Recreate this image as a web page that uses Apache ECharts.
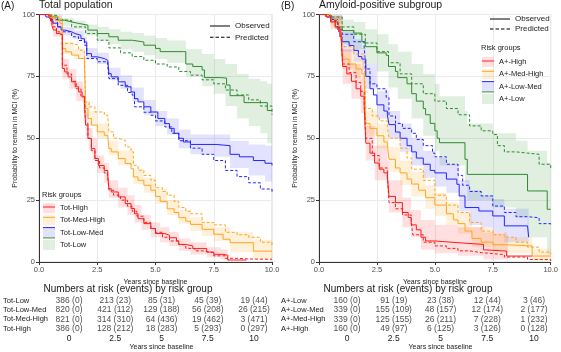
<!DOCTYPE html>
<html>
<head>
<meta charset="utf-8">
<title>Risk groups - probability to remain in MCI</title>
<script src="https://cdn.jsdelivr.net/npm/echarts@6/dist/echarts.min.js"></script>
<style>
  html, body { margin: 0; padding: 0; background: #fff; }
  #main { width: 561px; height: 352px; }
</style>
</head>
<body>
<div id="main"></div>
<script>
/* ---------- data: (A) total population, [years, %] ---------- */
var totHighObs = [[0,100],[0.4,100],[0.45,98.4],[0.55,95.7],[0.62,93.7],[0.75,92.3],[0.9,91.6],[1.0,78.2],[1.1,76.8],[1.25,74.8],[1.4,72.8],[1.55,70.8],[1.7,68.7],[1.85,66.7],[1.95,64],[2.0,55.3],[2.1,49.9],[2.25,45.8],[2.4,41.8],[2.55,39],[2.8,37],[2.95,35],[3.0,29.6],[3.1,28.3],[3.4,26.3],[3.7,23.6],[3.95,21.6],[4.1,19.5],[4.25,17.5],[4.5,15.5],[4.8,13.5],[5.0,11.5],[5.4,10.8],[5.6,9.8],[5.9,8.5],[6.0,7.1],[6.3,6.5],[6.6,5.4],[7.2,4],[7.5,3.1],[7.9,2.7],[8.1,0.8],[8.9,0.8]];
var totHighPred = [[0,100],[0.4,99.5],[0.5,97.5],[0.6,95],[0.75,93],[0.9,92],[1.0,79.5],[1.2,76],[1.4,73],[1.6,70],[1.8,67],[1.95,65],[2.0,56],[2.1,50],[2.25,45],[2.4,41],[2.6,38],[2.8,36],[2.95,34.5],[3.0,29],[3.2,27],[3.5,25],[3.8,22.5],[4.0,20.5],[4.2,18.5],[4.5,16],[4.8,13.5],[5.0,12],[5.3,10],[5.6,8.5],[6.0,7],[6.3,5.5],[6.7,4.5],[7.0,3.8],[7.5,2.5],[8.0,1.5],[8.5,1.2],[9.0,1.1],[10,1]];
var totHighBand = [[0,100,100],[0.45,96,100],[0.6,91,97],[1.0,74,82],[1.3,70,78],[1.6,65,73],[1.9,60,68],[2.0,51,60],[2.15,45,54],[2.3,41,50],[2.5,36,43],[2.8,32,40],[3.0,26,33],[3.4,22,30],[3.8,19,27],[4.1,16,23],[4.4,13,19],[4.8,10,16],[5.2,8,14],[5.6,6.5,12],[6.0,4.5,9.5],[6.5,3,8],[7.2,2,6],[7.8,1,5],[8.1,0,3],[8.15,0,3]];

var totMHObs = [[0,100],[0.3,99.5],[0.5,98.5],[0.7,97.5],[0.9,96.4],[1.0,86.3],[1.15,84.9],[1.4,83.6],[1.7,82.2],[1.95,80.9],[2.0,62],[2.1,58],[2.25,55.3],[2.5,52.6],[2.8,51.2],[2.95,50.5],[3.0,45.8],[3.1,44.5],[3.4,41.8],[3.7,39.8],[3.95,37.7],[4.05,34.4],[4.25,33],[4.5,31],[4.8,29],[5.0,26.5],[5.2,24.5],[5.5,21.5],[5.8,20],[6.0,17.9],[6.3,16.5],[6.5,15.2],[7.0,13.2],[7.5,11.2],[7.9,9.2],[8.2,7.8],[9.2,4.4],[10,4.4]];
var totMHPred = [[0,100],[0.5,99],[0.9,98],[1.0,88.3],[1.4,87.6],[1.7,85.6],[1.95,84.2],[2.0,64.7],[2.15,62.7],[2.4,60.6],[2.8,59.3],[2.95,58.6],[3.0,52.6],[3.2,50],[3.4,49.2],[3.7,46.5],[3.95,44.5],[4.05,39.1],[4.25,37.1],[4.5,35],[4.8,33],[5.0,30],[5.3,28.5],[5.5,27],[5.8,24.5],[6.0,22],[6.3,20.5],[6.5,19.5],[7.0,16],[7.5,15],[8.0,12],[8.5,11],[9.0,10],[9.5,8],[10,6.5]];
var totMHBand = [[0,100,100],[0.5,97.5,99.5],[1.0,84,89],[1.5,82,86],[1.95,79,83],[2.0,59,65],[2.2,55.5,61],[2.5,50,56],[3.0,43,49],[3.4,39,45],[4.05,31.5,37.5],[4.5,28,34],[5.0,23.5,29.5],[5.5,19,25],[6.0,15.5,21],[6.5,12.5,18],[7.0,10.5,16],[7.5,8.5,14],[8.2,4,12],[9.2,1,9],[10,1,9]];

var totLMObs = [[0,100],[0.25,100],[0.3,99],[0.5,97.5],[0.6,96.5],[0.8,95],[0.95,93.7],[1.1,93],[1.4,92.3],[1.55,91.6],[1.8,90.2],[1.95,88.9],[2.05,84.2],[2.25,82.9],[2.5,82.2],[2.8,81.5],[2.95,80.9],[3.0,76.1],[3.1,74.8],[3.4,72.8],[3.7,70.8],[3.95,68.7],[4.1,66],[4.25,64.7],[4.5,62.7],[4.8,60.6],[5.1,58],[5.4,55.9],[5.6,54],[5.8,52],[6.0,50],[6.2,48.5],[6.5,47.5],[7.6,47],[8.2,43.5],[8.6,42.5],[9.2,41],[9.7,39.9],[10,39]];
var totLMPred = [[0,100],[0.3,99.5],[0.5,98],[0.8,95],[1.0,93],[1.4,91],[1.7,89.5],[1.95,87.6],[2.05,82.2],[2.5,80.9],[2.95,79.5],[3.0,74.1],[3.4,71.4],[3.8,68.5],[4.0,67.4],[4.1,62.7],[4.5,60.5],[4.8,59.3],[5.0,57],[5.4,54.6],[5.7,52],[6.0,49],[6.5,46],[7.0,43.5],[7.5,41],[8.0,37],[8.5,34.5],[9.0,32],[9.5,29.5],[10,28]];
var totLMBand = [[0,100,100],[0.5,97,99],[1.0,91.5,95],[1.5,90,93.5],[1.95,87,91],[2.05,82,86.5],[2.5,80,84.5],[3.0,73.5,78.5],[3.5,70,75.5],[4.0,65,70.5],[4.5,59.5,65.5],[5.0,55,61],[5.5,51.5,58],[6.0,46,53.5],[6.5,43.5,51.5],[7.5,42.5,51.5],[8.2,38,49],[9.0,35,47.5],[9.7,32.5,47],[10,32,47]];

var totLowObs = [[0,100],[0.5,100],[0.55,99],[0.8,97.7],[1.1,97],[1.4,96.4],[1.7,95.7],[2.1,93.7],[2.5,92.3],[3.0,91],[3.4,89.6],[4.0,88.9],[4.5,87.6],[5.0,86.3],[5.2,85],[6.2,85],[6.3,80],[6.6,79],[7.0,77.6],[7.1,74.5],[7.8,74.3],[8.05,71.5],[8.2,67.2],[8.8,64.4],[9.8,61.2],[10,61.2]];
var totLowPred = [[0,100],[0.5,99.5],[0.8,98],[1.0,97.5],[1.4,95],[2.0,92.3],[2.5,89.6],[3.0,86.5],[3.5,84.5],[4.0,83],[4.5,81.5],[5.0,80],[5.5,78.8],[6.0,77],[6.5,75.5],[7.0,73.6],[7.5,72],[8.0,69.5],[8.5,67.5],[9.0,65.5],[9.5,63],[10,59.5]];
var totLowBand = [[0,100,100],[0.5,99,100],[1.0,95.5,98.5],[1.5,94,97.5],[2.0,91.5,96],[2.5,89.5,95],[3.0,88,94],[3.5,86,93],[4.0,85,92.5],[4.5,83.5,91.5],[5.0,82,90.5],[5.5,80.5,89.5],[6.3,75,86],[7.0,71,84],[7.5,68,82],[8.0,63,80],[8.5,58,76],[9.0,55,74],[9.5,52,73],[9.8,48,72],[10,48,72]];

/* ---------- data: (B) amyloid-positive subgroup ---------- */
var aHighObs = [[0,100],[0.25,100],[0.3,99],[0.5,97],[0.7,95],[0.85,93],[0.95,92],[1.02,79],[1.2,76],[1.4,73],[1.6,70],[1.8,67],[1.95,63],[2.02,48],[2.2,44],[2.4,40],[2.6,37.5],[2.8,36],[2.95,34.5],[3.02,26.5],[3.3,24],[3.6,20],[3.85,18],[3.98,15],[4.2,13],[4.4,10],[4.6,8.5],[5.0,7.8],[6.0,7.1],[7.1,4.9],[7.2,4.4],[8.1,2.4],[9.2,2.4]];
var aHighPred = [[0,100],[0.3,99.5],[0.5,97.5],[0.8,94.5],[0.95,92.5],[1.02,80],[1.3,76.5],[1.6,72.5],[1.8,69],[1.95,65],[2.02,50],[2.3,43],[2.6,38],[2.95,35],[3.02,24],[3.3,21.5],[3.6,19],[3.98,16],[4.05,11],[4.5,8],[5.0,6.5],[5.5,5.5],[6.0,4.5],[6.5,3.8],[7.0,3],[8.0,2],[9.0,1],[10,0.4]];
var aHighBand = [[0,100,100],[0.5,94,99.5],[1.02,72,86],[1.4,66,80],[1.8,60,74],[2.02,41,55],[2.4,33,47],[2.95,28,41],[3.02,20,33],[3.6,14,26],[3.98,10,21],[4.4,5,17],[5.0,3.5,15],[6.0,2.5,14],[7.1,1,12],[8.1,0,11],[8.15,0,11]];

var aMHObs = [[0,100],[0.25,100],[0.3,99.5],[0.5,97],[0.7,94.5],[0.85,93],[0.95,91],[1.02,82],[1.3,80],[1.6,78],[1.85,76],[1.95,74.5],[2.02,56],[2.2,54],[2.5,51],[2.8,48.5],[2.95,47.5],[3.02,41.5],[3.3,38],[3.5,36],[3.8,33.5],[4.0,31.5],[4.3,29],[4.6,26],[5.0,23],[5.5,19.5],[5.8,17],[6.0,15.5],[6.3,12.5],[6.6,9.5],[7.0,8],[7.5,7],[8.0,6.5],[9.2,2.4],[10,2.4]];
var aMHPred = [[0,100],[0.5,98],[0.85,95],[0.95,94],[1.02,87],[1.5,84],[1.95,81],[2.02,62],[2.3,59],[2.6,57],[2.95,55],[3.02,50],[3.5,46],[3.8,42],[4.0,37.5],[4.5,33],[5.0,27],[5.5,23],[6.0,20],[6.5,16],[7.0,12.5],[7.5,11],[8.0,10],[8.5,8],[9.0,6],[9.5,4],[10,3]];
var aMHBand = [[0,100,100],[0.5,95.5,99],[1.02,78,86],[1.5,74,82.5],[1.95,70.5,79],[2.02,51,61],[2.5,46,56],[3.02,36.5,46.5],[3.5,31,41],[4.0,26.5,36.5],[4.6,21.5,31],[5.0,18.5,28],[5.5,15,24],[6.0,11.5,20],[6.6,6,14],[7.5,4,11.5],[8.0,3.5,10],[9.2,0.5,5.5],[10,0.5,5.5]];

var aLMObs = [[0,100],[0.3,100],[0.35,99],[0.5,98],[0.7,95],[0.9,91],[1.0,89],[1.3,87.5],[1.5,85.5],[1.7,83],[1.85,82],[2.02,75],[2.2,70],[2.35,67.5],[2.5,63.5],[2.8,61],[2.95,59.5],[3.02,55.5],[3.3,52.5],[3.5,50],[3.8,47],[4.0,44.5],[4.2,42],[4.5,39.5],[4.8,37],[5.0,36],[5.5,33.5],[5.95,31.4],[6.05,26.7],[6.3,22],[6.9,20.6],[7.5,18.6],[8.0,14.6],[9.0,13.9],[9.05,10]];
var aLMPred = [[0,100],[0.3,99.5],[0.5,98],[0.8,94],[1.0,92],[1.5,89],[1.95,86.5],[2.02,78],[2.2,72],[2.5,70],[2.9,66.5],[3.02,59],[3.3,56],[3.6,54],[4.0,52],[4.2,49.5],[4.5,47],[4.9,44],[5.0,42.5],[5.5,39.5],[6.0,35],[6.2,31],[6.5,28.5],[7.0,26.7],[7.5,22.6],[8.0,20],[8.5,18.3],[9.0,17.9],[9.5,15.5],[10,14.5]];
var aLMBand = [[0,100,100],[0.5,96.5,99.5],[1.0,85,93],[1.5,81,90],[1.85,77.5,86.5],[2.02,70,80],[2.5,58,69],[3.02,50,61],[3.5,44.5,56],[4.0,39,50],[4.5,34,45],[5.0,30.5,42],[5.5,28,39.5],[6.05,20.5,33],[6.5,15,29],[7.0,14,27],[7.5,12,25.5],[8.0,8,21.5],[9.05,7,21]];

var aLowObs = [[0,100],[0.4,99.5],[0.55,98],[0.7,97],[0.85,95],[1.0,93.5],[1.5,92.5],[1.85,89],[2.0,87],[2.5,84.5],[2.9,83.5],[3.0,79],[3.3,77],[3.4,74.5],[3.8,72],[4.0,68],[4.2,65],[4.5,62],[4.6,59.5],[4.8,56],[5.0,53],[5.1,50],[5.2,48.2],[6.3,41.5],[6.4,35.4],[9.0,28.7],[9.85,21.3],[10,21.3]];
var aLowPred = [[0,100],[0.5,99],[1.0,95],[1.5,92],[2.0,88.5],[2.5,85],[3.0,80.5],[3.5,76],[4.0,72],[4.5,68],[5.0,65],[5.5,62],[6.0,59.5],[6.5,55],[7.0,53],[7.5,51.5],[7.7,47],[8.0,44.5],[8.5,44],[9.0,43.5],[9.5,39.5],[10,38]];
var aLowBand = [[0,100,100],[0.5,98,100],[1.0,88,98],[1.5,86,97],[2.0,80,94],[2.5,77,92],[3.0,70.5,88],[3.4,66,85],[4.0,58,80],[4.5,51,76],[5.0,45,72],[5.2,39,67],[6.3,32,61],[6.4,25,56],[7.5,22,52],[8.5,18,49],[9.0,10,45],[9.85,3,40],[10,3,40]];

/* ---------- numbers at risk (events) ---------- */
var riskTimes = [0, 2.5, 5, 7.5, 10];
var totRows = ['Tot-High', 'Tot-Med-High', 'Tot-Low-Med', 'Tot-Low'];
var totLowRisk = [386, 213, 85, 45, 19],   totLowEv = [0, 23, 31, 39, 44];
var totLMRisk = [820, 421, 129, 56, 26],   totLMEv = [0, 112, 188, 208, 215];
var totMHRisk = [821, 314, 64, 19, 3],     totMHEv = [0, 310, 436, 462, 471];
var totHighRisk = [386, 128, 18, 5, 0],    totHighEv = [0, 212, 283, 293, 297];
var aRows = ['A+-High', 'A+-Med-High', 'A+-Low-Med', 'A+-Low'];
var aLowRisk = [160, 91, 23, 12, 3],       aLowEv = [0, 19, 38, 44, 46];
var aLMRisk = [339, 155, 48, 12, 2],       aLMEv = [0, 109, 157, 174, 177];
var aMHRisk = [339, 125, 26, 7, 1],        aMHEv = [0, 155, 211, 228, 232];
var aHighRisk = [160, 49, 6, 3, 0],        aHighEv = [0, 97, 125, 126, 128];

/* ---------- styles ---------- */
var FONT = 'Liberation Sans, Arial, Helvetica, sans-serif';
var TXT = '#1a1a1a';
var colors = ['#ff1a1a', '#ffa51f', '#2424ff', '#2e8b2e'];
var fills = ['rgba(255,26,26,0.14)', 'rgba(255,165,31,0.17)', 'rgba(36,36,255,0.13)', 'rgba(46,139,46,0.14)'];
var lineIcon = 'path://M0,4.5h12v1h-12z';
var solidIcon = 'path://M0,0h20v1h-20z';
var dashIcon = 'path://M0,0h3.5v1h-3.5z M5.5,0h3.5v1h-3.5z M11,0h3.5v1h-3.5z M16.5,0h3.5v1h-3.5z';

function kmLine(name, pts, color, dashed, gi) {
  return {
    type: 'line', name: name, xAxisIndex: gi, yAxisIndex: gi,
    data: pts, step: 'end', symbol: 'none', silent: true, animation: false, z: 3,
    lineStyle: { color: color, width: 1, type: dashed ? [3, 2] : 'solid' },
    itemStyle: { color: color }
  };
}

// confidence band drawn as a stepped polygon through the axis scales
function band(name, b, fill, gi) {
  return {
    type: 'custom', name: name, xAxisIndex: gi, yAxisIndex: gi,
    silent: true, animation: false, z: 1,
    itemStyle: { color: fill },
    data: [[b[0][0], b[0][2]]],
    renderItem: function (params, api) {
      var pts = [], i;
      for (i = 0; i < b.length - 1; i++) {
        pts.push(api.coord([b[i][0], b[i][2]]));
        pts.push(api.coord([b[i + 1][0], b[i][2]]));
      }
      for (i = b.length - 2; i >= 0; i--) {
        pts.push(api.coord([b[i + 1][0], b[i][1]]));
        pts.push(api.coord([b[i][0], b[i][1]]));
      }
      return { type: 'polygon', shape: { points: pts }, style: { fill: fill } };
    }
  };
}

function riskTable(gi, rows, risks, events) {
  var data = [];
  rows.forEach(function (r, k) {
    riskTimes.forEach(function (t, j) {
      data.push({ value: [t, r], name: risks[k][j] + ' (' + events[k][j] + ')' });
    });
  });
  return {
    type: 'scatter', xAxisIndex: gi, yAxisIndex: gi, data: data,
    symbolSize: 1, silent: true, animation: false,
    itemStyle: { color: 'rgba(0,0,0,0)' },
    label: { show: true, position: 'inside', formatter: '{b}', fontSize: 8.5, color: TXT, fontFamily: FONT }
  };
}

function plotX(gi) {
  return {
    type: 'value', gridIndex: gi, min: 0, max: 10, interval: 2.5,
    axisLine: { lineStyle: { color: '#333', width: 1 } },
    axisTick: { length: 3, lineStyle: { color: '#333' } },
    axisLabel: { fontSize: 7.5, color: '#4d4d4d', margin: 4, fontFamily: FONT, formatter: function (v) { return v.toFixed(1); } },
    splitLine: { show: true, lineStyle: { color: '#ebebeb', width: 1 } },
    name: 'Years since baseline', nameLocation: 'middle', nameGap: 12,
    nameTextStyle: { fontSize: 7, color: TXT, fontFamily: FONT }
  };
}
function plotY(gi) {
  return {
    type: 'value', gridIndex: gi, min: 0, max: 100, interval: 25,
    axisLine: { show: true, lineStyle: { color: '#333', width: 1 } },
    axisTick: { show: true, length: 3, lineStyle: { color: '#333' } },
    axisLabel: { fontSize: 7.5, color: '#4d4d4d', margin: 4, fontFamily: FONT },
    splitLine: { show: true, lineStyle: { color: '#ebebeb', width: 1 } },
    name: 'Probability to remain in MCI (%)', nameLocation: 'middle', nameGap: 19,
    nameTextStyle: { fontSize: 7, color: TXT, fontFamily: FONT }
  };
}
function tableX(gi) {
  return {
    type: 'value', gridIndex: gi, min: 0, max: 10, interval: 2.5,
    axisLine: { show: false }, axisTick: { show: false }, splitLine: { show: false },
    axisLabel: { fontSize: 8.5, color: TXT, margin: 1, fontFamily: FONT },
    name: 'Years since baseline', nameLocation: 'middle', nameGap: 8,
    nameTextStyle: { fontSize: 7, color: TXT, fontFamily: FONT }
  };
}
function tableY(gi, rows) {
  return {
    type: 'category', gridIndex: gi, data: rows,
    axisLine: { show: false }, axisTick: { show: false }, splitLine: { show: false },
    axisLabel: { interval: 0, fontSize: 7.5, color: TXT, align: 'left', margin: 66, fontFamily: FONT }
  };
}
function txt(text, left, top, size, align) {
  return { text: text, left: left, top: top, padding: 0, textAlign: align || 'left',
    textStyle: { fontSize: size, fontWeight: 'normal', color: TXT, fontFamily: FONT } };
}
function riskLegend(left, top, names, icon, textColor) {
  return {
    left: left, top: top, orient: 'vertical', padding: 0, itemGap: 2.3,
    itemWidth: 12, itemHeight: 10, icon: icon, selectedMode: false, data: names,
    textStyle: { fontSize: 7.5, color: textColor, fontFamily: FONT }
  };
}
function obsLegend(left, top, gap) {
  return {
    left: left, top: top, orient: 'vertical', padding: 0, itemGap: gap,
    itemWidth: 20, itemHeight: 10, selectedMode: false,
    data: [{ name: 'Observed', icon: solidIcon }, { name: 'Predicted', icon: dashIcon }],
    textStyle: { fontSize: 8, color: TXT, fontFamily: FONT }
  };
}

var chart = echarts.init(document.getElementById('main'), null, { renderer: 'canvas' });

var totObs = [totHighObs, totMHObs, totLMObs, totLowObs];
var totPred = [totHighPred, totMHPred, totLMPred, totLowPred];
var totBand = [totHighBand, totMHBand, totLMBand, totLowBand];
var aObs = [aHighObs, aMHObs, aLMObs, aLowObs];
var aPred = [aHighPred, aMHPred, aLMPred, aLowPred];
var aBand = [aHighBand, aMHBand, aLMBand, aLowBand];

var series = [];
// bands first (legend picks these up for the light squares)
for (var k = 3; k >= 0; k--) series.push(band(totRows[k], totBand[k], fills[k], 0));
for (k = 3; k >= 0; k--) series.push(band(aRows[k], aBand[k], fills[k], 1));
for (k = 3; k >= 0; k--) {
  series.push(kmLine(totRows[k] + ' pred', totPred[k], colors[k], true, 0));
  series.push(kmLine(totRows[k] + ' obs', totObs[k], colors[k], false, 0));
  series.push(kmLine(aRows[k] + ' pred', aPred[k], colors[k], true, 1));
  series.push(kmLine(aRows[k] + ' obs', aObs[k], colors[k], false, 1));
}
series.push({ type: 'line', name: 'Observed', data: [], itemStyle: { color: '#000' }, lineStyle: { color: '#000' } });
series.push({ type: 'line', name: 'Predicted', data: [], itemStyle: { color: '#000' }, lineStyle: { color: '#000', type: 'dashed' } });
series.push(riskTable(2, totRows, [totHighRisk, totMHRisk, totLMRisk, totLowRisk], [totHighEv, totMHEv, totLMEv, totLowEv]));
series.push(riskTable(3, aRows, [aHighRisk, aMHRisk, aLMRisk, aLowRisk], [aHighEv, aMHEv, aLMEv, aLowEv]));

var option = {
  backgroundColor: '#fff',
  animation: false,
  title: [
    txt('(A)', 1, 1, 10), txt('Total population', 39, 0, 10.5),
    txt('(B)', 281, 1, 10), txt('Amyloid-positive subgroup', 319, 0, 10.5),
    txt('Risk groups', 42, 191, 7.5), txt('Risk groups', 481, 44, 7.5),
    txt('Numbers at risk (events) by risk group', 128, 284, 10, 'center'),
    txt('Numbers at risk (events) by risk group', 408, 284, 10, 'center')
  ],
  legend: [
    obsLegend(210, 22, 3.3), obsLegend(490, 15, 2),
    riskLegend(43, 203, totRows, 'rect', TXT),
    riskLegend(43, 203, totRows.map(function (n) { return n + ' obs'; }), lineIcon, 'rgba(0,0,0,0)'),
    riskLegend(482, 57, aRows, 'rect', TXT),
    riskLegend(482, 57, aRows.map(function (n) { return n + ' obs'; }), lineIcon, 'rgba(0,0,0,0)')
  ],
  grid: [
    { left: 39, top: 14.5, width: 233, height: 247.5, show: true, borderColor: '#d4d4d4', borderWidth: 1, backgroundColor: 'transparent' },
    { left: 319, top: 14.5, width: 233, height: 247.5, show: true, borderColor: '#d4d4d4', borderWidth: 1, backgroundColor: 'transparent' },
    { left: 67, top: 296, width: 187, height: 41 },
    { left: 347, top: 296, width: 187, height: 41 }
  ],
  xAxis: [plotX(0), plotX(1), tableX(2), tableX(3)],
  yAxis: [plotY(0), plotY(1), tableY(2, totRows), tableY(3, aRows)],
  series: series
};
chart.setOption(option);
</script>
</body>
</html>
